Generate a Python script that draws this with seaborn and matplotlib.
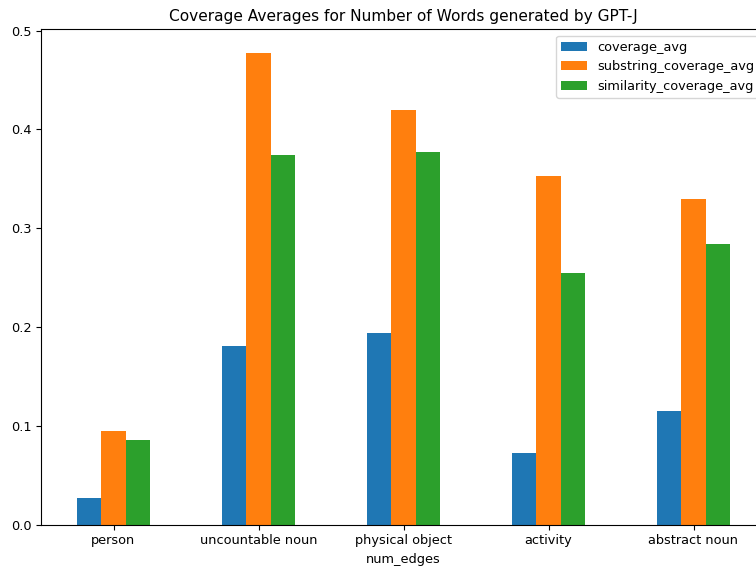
import pandas as pd
import seaborn as sns
from matplotlib import pyplot as plt

# categories and the three coverage series
categories = ['person', 'uncountable noun', 'physical object', 'activity', 'abstract noun']
coverage_avg = [0.0267, 0.181, 0.1939, 0.0729, 0.1149]
substring_coverage_avg = [0.0952, 0.4776, 0.4195, 0.3526, 0.3297]
similarity_coverage_avg = [0.0861, 0.3737, 0.3773, 0.2547, 0.2837]
series_names = ['coverage_avg', 'substring_coverage_avg', 'similarity_coverage_avg']

df = pd.DataFrame({'num_edges': categories,
                   'coverage_avg': coverage_avg,
                   'substring_coverage_avg': substring_coverage_avg,
                   'similarity_coverage_avg': similarity_coverage_avg})
long_df = df.melt(id_vars='num_edges', value_vars=series_names,
                  var_name='metric', value_name='value')

plt.rcParams['font.size'] = 9.25

fig = plt.figure(figsize=(7.56, 5.67), dpi=100)
ax = fig.add_axes([41 / 756, 1 - 524.7 / 567, 725 / 756, 495.5 / 567])

sns.barplot(data=long_df, x='num_edges', y='value', hue='metric',
            hue_order=series_names, order=categories,
            palette=['#1f77b4', '#ff7f0e', '#2ca02c'],
            width=0.5, gap=0, saturation=1, linewidth=0, ax=ax)

ax.set_xlim(-0.5, len(categories) - 0.5)
ax.set_ylim(0, max(substring_coverage_avg) * 1.05)
ax.set_yticks([0.0, 0.1, 0.2, 0.3, 0.4, 0.5])
ax.set_ylabel('')
ax.set_xlabel('num_edges')
ax.set_title('Coverage Averages for Number of Words generated by GPT-J', fontsize=11.1)
ax.legend(loc='upper right', title=None)

fig.savefig('out.png', dpi=100)
